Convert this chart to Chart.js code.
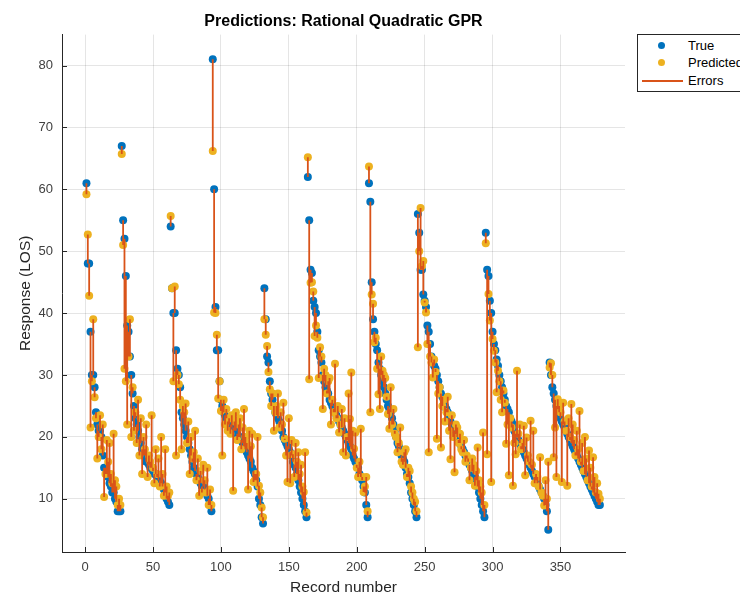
<!DOCTYPE html>
<html>
<head>
<meta charset="utf-8">
<script src="https://cdn.jsdelivr.net/npm/chart.js@4.4.1/dist/chart.umd.min.js"></script>
<style>
  html, body { margin: 0; padding: 0; background: #fff; overflow: hidden; }
  #wrap { position: relative; width: 740px; height: 597px; }
  #legend {
    position: absolute; left: 637px; top: 34px; width: 130px; height: 56px;
    border: 1px solid #262626; background: #fff;
    font-family: "Liberation Sans", Arial, Helvetica, sans-serif; font-size: 13px; color: #000;
  }
  .row { position: absolute; left: 0; height: 16px; width: 130px; }
  .row span { position: absolute; left: 50px; top: 0; line-height: 16px; }
  .dot { position: absolute; left: 20px; top: 4px; width: 7px; height: 7px; border-radius: 50%; }
  .ln { position: absolute; left: 4px; top: 7px; width: 41px; height: 1.5px; background: #D95319; }
</style>
</head>
<body>
<div id="wrap">
  <canvas id="graficoPredicciones" width="740" height="597"></canvas>
  <div id="legend">
    <div class="row" style="top:3px"><div class="dot" style="background:#0072BD"></div><span>True</span></div>
    <div class="row" style="top:20px"><div class="dot" style="background:#EDB120"></div><span>Predicted</span></div>
    <div class="row" style="top:38px"><div class="ln"></div><span>Errors</span></div>
  </div>
</div>
<script>
// valores (registro 1..379)
const trueLOS = [
  61, 48, 48, 37, 30, 30, 28, 24, 22, 21, 21, 20, 17, 15, 15, 14, 13.5, 12.5, 12, 11, 11, 10, 9.5, 8, 8, 8,
  67, 55, 52, 46, 38, 37, 33, 30, 27, 25, 23, 22, 21, 20, 19, 18, 17, 17, 16, 16, 15.5, 15, 15, 14.5, 14, 14, 13.5, 13, 13, 12.5, 12, 11.5, 11, 10, 9.5, 9,
  54, 44, 40, 40, 34, 31, 30, 28, 24, 23, 22, 21, 20, 19, 18, 17, 16, 15, 14.5, 14, 13.5, 13, 12.5, 12, 12, 11.5, 11, 10.5, 10, 9, 8,
  81, 60, 41, 34, 34, 29, 26, 25, 24, 23.5, 23, 22.5, 22, 22, 21.5, 21.5, 21, 21, 20.5, 20, 20, 19.5, 19, 18.5, 18, 17.5, 17, 16.5, 16, 15, 14.5, 14, 13, 12, 10, 9, 7, 6,
  44, 39, 33, 32, 29, 27, 26, 25, 24, 23.5, 23, 22.5, 22, 21, 20, 19.5, 19, 18.5, 18, 17.5, 17, 16, 15.5, 15, 14, 13, 12, 11, 10, 9, 8, 7,
  62, 55, 47, 46.5, 42, 41, 40, 37, 34, 33, 32, 30, 29, 28, 27.5, 27, 26, 25.5, 25, 24.5, 24, 23.5, 23, 22.5, 22, 21.5, 21, 20.5, 20, 19.5, 19, 18.5, 18, 17, 16.5, 16, 15.5, 15, 14, 13.5, 13, 12, 11, 9, 7,
  61, 58, 45, 39, 37, 35, 34, 32, 31, 30, 29, 28, 27, 26, 25, 24.5, 24, 23, 22, 21, 20, 19, 18.5, 18, 17, 16.5, 16, 15, 14, 13.5, 12.5, 11, 10, 9, 8, 7,
  56, 53, 47, 47, 43, 42, 41, 38, 37, 35, 33, 32, 31.5, 31, 30, 29, 28, 27, 26.5, 26, 25, 24.5, 24, 23, 22.5, 22, 21.5, 21, 20.5, 20, 19.5, 19, 18.5, 18, 17.5, 17, 16.5, 16, 15.5, 15, 14.5, 14, 13.5, 13, 12, 11, 10, 9, 8, 7,
  53, 47, 46, 42, 40, 37, 35, 34, 32.5, 31.5, 30, 29, 28, 27, 26, 25, 24.5, 24, 23, 22.5, 22, 21, 20.5, 20, 19.5, 19, 18.5, 18, 17.5, 17, 16.5, 16, 15.5, 15, 14.5, 14, 13.5, 13, 12.5, 12, 11.5, 11, 10.5, 10, 9, 8, 5,
  32, 30, 28, 27, 26, 25, 24.5, 24, 23, 22.5, 22, 21.5, 21, 20.5, 20, 19.5, 19, 18.5, 18, 17.5, 17, 16.5, 16, 15.5, 15, 14.5, 14, 13.5, 13, 12.5, 12, 11.5, 11, 10.5, 10, 9.5, 9, 9
];

const predictedLOS = [
  59.2, 52.7, 42.8, 21.5, 29, 39, 26.4, 23, 16.5, 20, 23.5, 18, 22, 10.3, 14, 19.5, 16, 19, 14, 12.5, 20.5, 13, 12, 9, 10, 9,
  65.7, 51, 31, 29, 22, 33, 39, 20, 28, 21, 24, 19, 26, 17, 23, 14, 20, 18, 22, 13.5, 17, 16, 23.5, 15, 12.5, 18, 14, 16.5, 12, 20, 14, 10.5, 18, 12, 10.5, 11,
  55.7, 44, 29, 44.3, 17, 30, 28.5, 26, 18, 25, 24, 25.4, 19, 22.5, 14, 20, 16.5, 17.5, 21, 13, 16.5, 10.5, 14.5, 11, 15.5, 13, 11, 15, 9, 11.5, 9,
  66.2, 40.1, 40, 36.5, 26.2, 29, 24.2, 17, 26, 22, 24.5, 21, 23, 20.5, 23.5, 11.3, 22.5, 24, 19.5, 22, 23, 18, 21.5, 24.5, 20, 19, 11.5, 21, 18.5, 20.5, 12.7, 13, 14, 20, 12.1, 11, 8.6, 7,
  39, 36.5, 34.7, 30.5, 27.7, 25, 27, 21, 24, 25, 27, 21.5, 24, 22, 25.5, 19.7, 17, 12.7, 23, 12.5, 19.5, 17.2, 13.5, 19, 16, 17.5, 14, 15.5, 12, 11.1, 17.5, 7.8,
  65.2, 29.3, 44.9, 45, 43.5, 36.3, 38, 36, 29.5, 34.5, 33, 24.5, 31, 30, 27, 29, 29.5, 22, 26, 24, 31.8, 23, 25, 20.7, 22, 24.5, 17.5, 23, 17, 20, 27, 22.9, 30.4, 21, 18.1, 20.7, 15, 13.5, 16, 21.3, 13.5, 11.1, 12, 13.5, 8,
  63.7, 24, 43, 41.5, 35.3, 36, 31, 26.9, 24.5, 33, 30.7, 30, 29.5, 26.5, 23.7, 21.3, 28, 22, 24.5, 20.5, 20, 17.5, 19, 21.5, 16, 15.5, 17.5, 18, 13.5, 15, 14.5, 12, 11, 10, 9.5, 8,
  34.5, 50, 57, 47.6, 48.4, 41.7, 40.1, 35, 17.5, 33, 32, 29.6, 32.5, 30.5, 19.7, 27, 28, 18.3, 25, 26, 22.5, 24, 26.5, 21, 16.4, 23.5, 20, 14.3, 22, 21.5, 19, 20.5, 18, 17.5, 19.5, 16, 17, 16.5, 13, 15, 16.5, 15.5, 12.1, 14.5, 18.3, 13, 12, 11, 20.7, 9,
  51.3, 17.2, 43.1, 38.8, 12.7, 35.8, 33.9, 32, 27.2, 30.7, 29, 26, 24, 27.5, 25.5, 18.9, 22, 13.8, 23, 21.5, 12.1, 19, 17.2, 30.7, 20.5, 22, 18, 19, 21.8, 13.8, 19.9, 17, 16, 22.6, 15.5, 21, 12.5, 14, 13.5, 12, 16.7, 11, 10.5, 8.9, 13, 10, 16,
  31.2, 31.9, 30, 16.7, 21.5, 13.5, 26.1, 25, 24, 12.7, 25.5, 22.5, 21, 12.1, 23, 20, 25.3, 22, 19.5, 17, 21, 18, 24.2, 16, 19, 14.5, 20, 16.5, 13, 17.8, 15, 12, 16.7, 13.5, 11, 12.5, 10.8, 10
];

const xTicks = [0, 50, 100, 150, 200, 250, 300, 350];
const yTicks = [10, 20, 30, 40, 50, 60, 70, 80];

const fuente = '"Liberation Sans", Arial, Helvetica, sans-serif';

const puntosTrue = trueLOS.map((v, i) => ({ x: i + 1, y: v }));
const puntosPred = predictedLOS.map((v, i) => ({ x: i + 1, y: v }));
// segmentos verticales true -> predicted, separados por null
const errores = [];
trueLOS.forEach((v, i) => {
  errores.push({ x: i + 1, y: v }, { x: i + 1, y: predictedLOS[i] }, { x: i + 1, y: null });
});

// marcas de eje hacia adentro (estilo MATLAB)
const marcasInternas = {
  id: 'marcasInternas',
  afterDraw(chart) {
    const { ctx, chartArea, scales } = chart;
    ctx.save();
    ctx.strokeStyle = '#262626';
    ctx.lineWidth = 1;
    ctx.beginPath();
    xTicks.forEach(t => {
      const px = Math.round(scales.x.getPixelForValue(t)) + 0.5;
      ctx.moveTo(px, chartArea.bottom);
      ctx.lineTo(px, chartArea.bottom - 5);
    });
    yTicks.forEach(t => {
      const py = Math.round(scales.y.getPixelForValue(t)) + 0.5;
      ctx.moveTo(chartArea.left, py);
      ctx.lineTo(chartArea.left + 5, py);
    });
    ctx.stroke();
    ctx.restore();
  }
};

const ctx = document.getElementById('graficoPredicciones').getContext('2d');

new Chart(ctx, {
  type: 'scatter',
  data: {
    datasets: [
      {
        label: 'True',
        data: puntosTrue,
        pointRadius: 4,
        pointBorderWidth: 0,
        pointBackgroundColor: '#0072BD',
        order: 3
      },
      {
        label: 'Predicted',
        data: puntosPred,
        pointRadius: 4,
        pointBorderWidth: 0,
        pointBackgroundColor: '#EDB120',
        order: 2
      },
      {
        type: 'line',
        label: 'Errors',
        data: errores,
        borderColor: '#D95319',
        borderWidth: 1.8,
        pointRadius: 0,
        spanGaps: false,
        order: 1
      }
    ]
  },
  options: {
    responsive: false,
    animation: false,
    layout: { padding: { left: 0, right: 115, top: 0, bottom: 0 } },
    plugins: {
      legend: { display: false },
      tooltip: { enabled: false },
      title: {
        display: true,
        text: 'Predictions: Rational Quadratic GPR',
        fullSize: false,
        color: '#000',
        font: { family: fuente, size: 16, weight: 'bold' },
        padding: { top: 12.4, bottom: 3 }
      }
    },
    scales: {
      x: {
        type: 'linear',
        min: -17,
        max: 397.5,
        afterBuildTicks: s => { s.ticks = xTicks.map(v => ({ value: v })); },
        afterFit: s => { s.height = 45; },
        grid: { color: 'rgba(38,38,38,0.12)', drawTicks: false },
        border: { color: '#262626', width: 1 },
        ticks: { padding: 8, color: '#404040', font: { family: fuente, size: 13 } },
        title: {
          display: true,
          text: 'Record number',
          color: '#262626',
          font: { family: fuente, size: 15.5 },
          padding: { top: 0, bottom: 0 }
        }
      },
      y: {
        type: 'linear',
        min: 1.4,
        max: 85,
        afterBuildTicks: s => { s.ticks = yTicks.map(v => ({ value: v })); },
        afterFit: s => { s.width = 62; },
        grid: { color: 'rgba(38,38,38,0.12)', drawTicks: false },
        border: { color: '#262626', width: 1 },
        ticks: { padding: 9, color: '#404040', font: { family: fuente, size: 13 } },
        title: {
          display: true,
          text: 'Response (LOS)',
          color: '#262626',
          font: { family: fuente, size: 15.5 },
          padding: { top: 16, bottom: 0 }
        }
      }
    }
  },
  plugins: [marcasInternas]
});
</script>
</body>
</html>
